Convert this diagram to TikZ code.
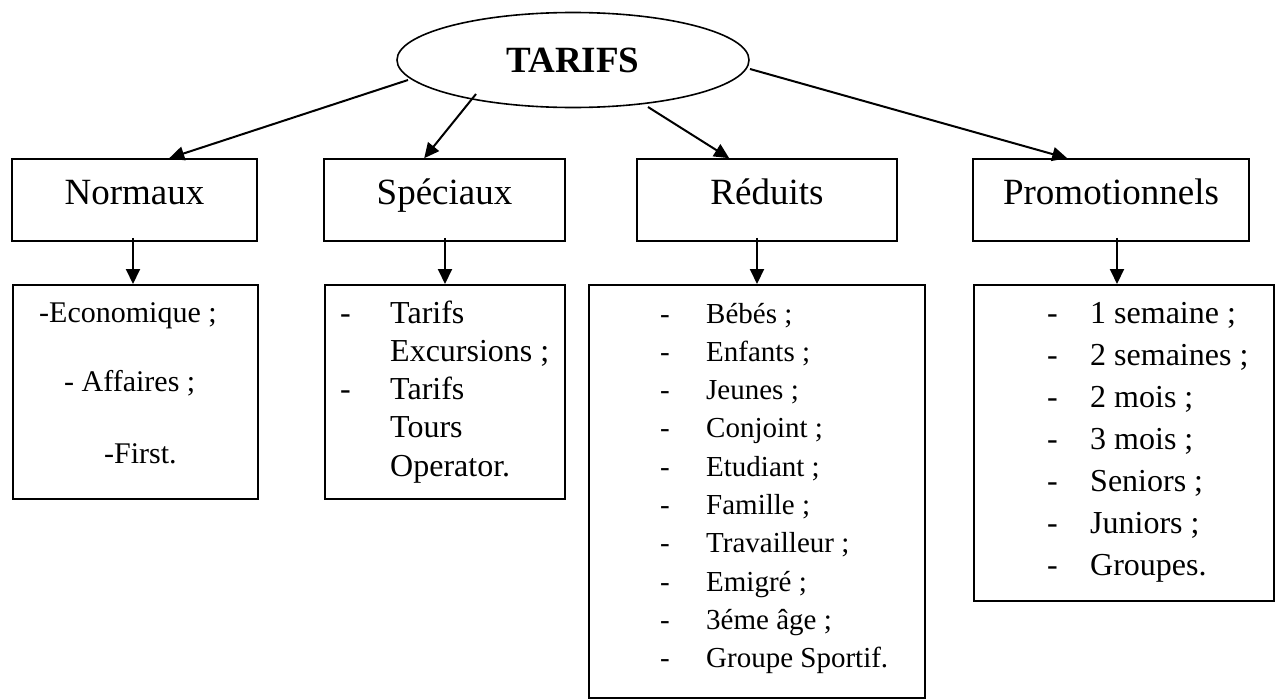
\documentclass[tikz,border=0pt]{standalone}
\usepackage{fontspec}
\setmainfont{Liberation Serif}
\usetikzlibrary{shapes.geometric,arrows.meta,calc}
\begin{document}
\begin{tikzpicture}[x=1pt,y=-1pt,
  topbox/.style={draw,line width=1.6pt,rectangle,inner sep=0pt,minimum width=#1,
    font=\fontsize{37}{44}\selectfont,text height=45pt,text depth=37pt},
  bodybox/.style={draw,line width=1.6pt,rectangle,inner sep=0pt,anchor=north west},
  conn/.style={line width=2pt,-{Triangle[length=15pt,width=14pt]}},
  item/.style={anchor=base west,inner sep=0pt},
  fa/.style={font=\fontsize{30}{36}\selectfont},
  fb/.style={font=\fontsize{32}{38}\selectfont},
  fc/.style={font=\fontsize{29}{35}\selectfont}]
\useasboundingbox (0,0) rectangle (1277,699);

% title
\node[draw,ellipse,line width=1.6pt,minimum width=352pt,minimum height=95pt,inner sep=0pt,
  font=\fontsize{37}{44}\selectfont\bfseries] (title) at (573,60) {TARIFS};

% level 1
\node[topbox=245pt] (norm)  at (134.5,200) {Normaux};
\node[topbox=241pt] (spec)  at (444.5,200) {Spéciaux};
\node[topbox=260pt] (red)   at (767,200)   {Réduits};
\node[topbox=276pt] (promo) at (1111,200)  {Promotionnels};

% body boxes
\node[bodybox,minimum width=245pt,minimum height=214pt] (nbody) at (12,284) {};
\node[bodybox,minimum width=240pt,minimum height=214pt] (sbody) at (324,284) {};
\node[bodybox,minimum width=336pt,minimum height=413pt] (rbody) at (588,284) {};
\node[bodybox,minimum width=300pt,minimum height=316pt] (pbody) at (973,284) {};

% connectors from title
\draw[conn] ($(title.center)+(-165,20)$) -- ($(norm.north west)+(158,0)$);
\draw[conn] ($(title.center)+(-97,34)$)  -- ($(spec.north west)+(101,0)$);
\draw[conn] ($(title.center)+(75,47)$)   -- ($(red.north west)+(93,0)$);
\draw[conn] ($(title.center)+(177,9)$)   -- ($(promo.north west)+(95,0)$);

% down connectors
\draw[conn] ($(norm.south)+(-1.5,-4)$) -- ($(nbody.north west)+(121,0)$);
\draw[conn] ($(spec.south)+(0.5,-4)$)  -- ($(sbody.north west)+(121,0)$);
\draw[conn] ($(red.south)+(-10,-4)$)   -- ($(rbody.north west)+(169,0)$);
\draw[conn] ($(promo.south)+(6,-4)$)   -- ($(pbody.north west)+(144,0)$);

% Normaux items
\node[item,fa] (n1) at (39,322)  {-Economique ;};
\node[item,fa] (n2) at (64,391)  {- Affaires ;};
\node[item,fa] (n3) at (104,463) {-First.};

% Speciaux items
\node[item,fb] (sd1) at (340,323) {-};
\node[item,fb] (sd2) at (340,399) {-};
\foreach \t [count=\i] in {{Tarifs},{Excursions ;},{Tarifs},{Tours},{Operator.}}
  \node[item,fb] (s\i) at (390,{323+38.3*(\i-1)}) {\t};

% Reduits items
\foreach \t [count=\i] in {{Bébés ;},{Enfants ;},{Jeunes ;},{Conjoint ;},{Etudiant ;},{Famille ;},{Travailleur ;},{Emigré ;},{3éme âge ;},{Groupe Sportif.}}
{
  \node[item,fc] (rd\i) at (660,{323+38.3*(\i-1)}) {-};
  \node[item,fc] (r\i) at (706,{323+38.3*(\i-1)}) {\t};
}

% Promotionnels items
\foreach \t [count=\i] in {{1 semaine ;},{2 semaines ;},{2 mois ;},{3 mois ;},{Seniors ;},{Juniors ;},{Groupes.}}
{
  \node[item,fb] (pd\i) at (1047,{323+42*(\i-1)}) {-};
  \node[item,fb] (p\i) at (1090,{323+42*(\i-1)}) {\t};
}
\end{tikzpicture}
\end{document}
